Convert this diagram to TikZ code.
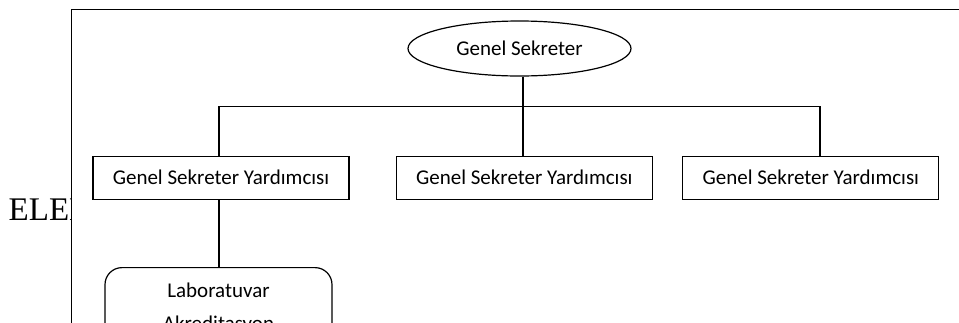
\documentclass[tikz,border=0pt]{standalone}
\usepackage{fontspec}
\setmainfont{Carlito}
\newfontfamily\timesfont{Liberation Serif}
\usetikzlibrary{shapes.geometric}
\begin{document}
\begin{tikzpicture}[x=1pt,y=-1pt,
  line/.style={draw=black,line width=1.2pt},
  box/.style={draw=black,line width=1.2pt,rectangle,minimum width=256pt,minimum height=43pt,inner sep=0pt,font=\fontsize{21}{25}\selectfont},
  oval/.style={draw=black,line width=1.2pt,ellipse,minimum width=223pt,minimum height=55pt,inner sep=0pt,font=\fontsize{21}{25}\selectfont},
  rbox/.style={draw=black,line width=1.2pt,rectangle,rounded corners=17pt,minimum width=227pt,minimum height=120pt,inner sep=0pt},
  txt/.style={font=\fontsize{21}{25}\selectfont,inner sep=0pt,anchor=base},
  frame/.style={draw=black,line width=1.5pt}]
\useasboundingbox (0,0) rectangle (959,322);
\clip (0,0) rectangle (959,322);
\begin{scope}
  \clip (0,150) rectangle (71,240);
  \node[anchor=base west,inner sep=0pt,font=\timesfont\fontsize{33}{40}\selectfont] (ele) at (8.5,220.5) {ELEK};
\end{scope}
\coordinate (fbl) at (71.7,400);
\coordinate (ftl) at (71.7,9.3);
\coordinate (ftr) at (1000,9.3);
\draw[frame] (fbl) -- (ftl) -- (ftr);
\node[oval] (gs) at (519.5,48.5) {Genel Sekreter};
\node[box] (b1) at (221,177.7) {Genel Sekreter Yardımcısı};
\node[box] (b2) at (524.3,177.7) {Genel Sekreter Yardımcısı};
\node[box] (b3) at (810.8,177.7) {Genel Sekreter Yardımcısı};
\node[rbox,anchor=north] (lab) at (218.5,267) {};
\node[txt] (l1) at (218.5,297) {Laboratuvar};
\node[txt] (l2) at (218.5,330) {Akreditasyon};
\coordinate (j1) at (219,106.3);
\coordinate (j2) at (523,106.3);
\coordinate (j3) at (820,106.3);
\draw[line] (j1) -- (j3);
\draw[line] (gs.south -| j2) -- (b2.north -| j2);
\draw[line] (j1) -- (b1.north -| j1);
\draw[line] (j3) -- (b3.north -| j3);
\draw[line] (b1.south -| j1) -- (lab.north -| j1);
\end{tikzpicture}
\end{document}
